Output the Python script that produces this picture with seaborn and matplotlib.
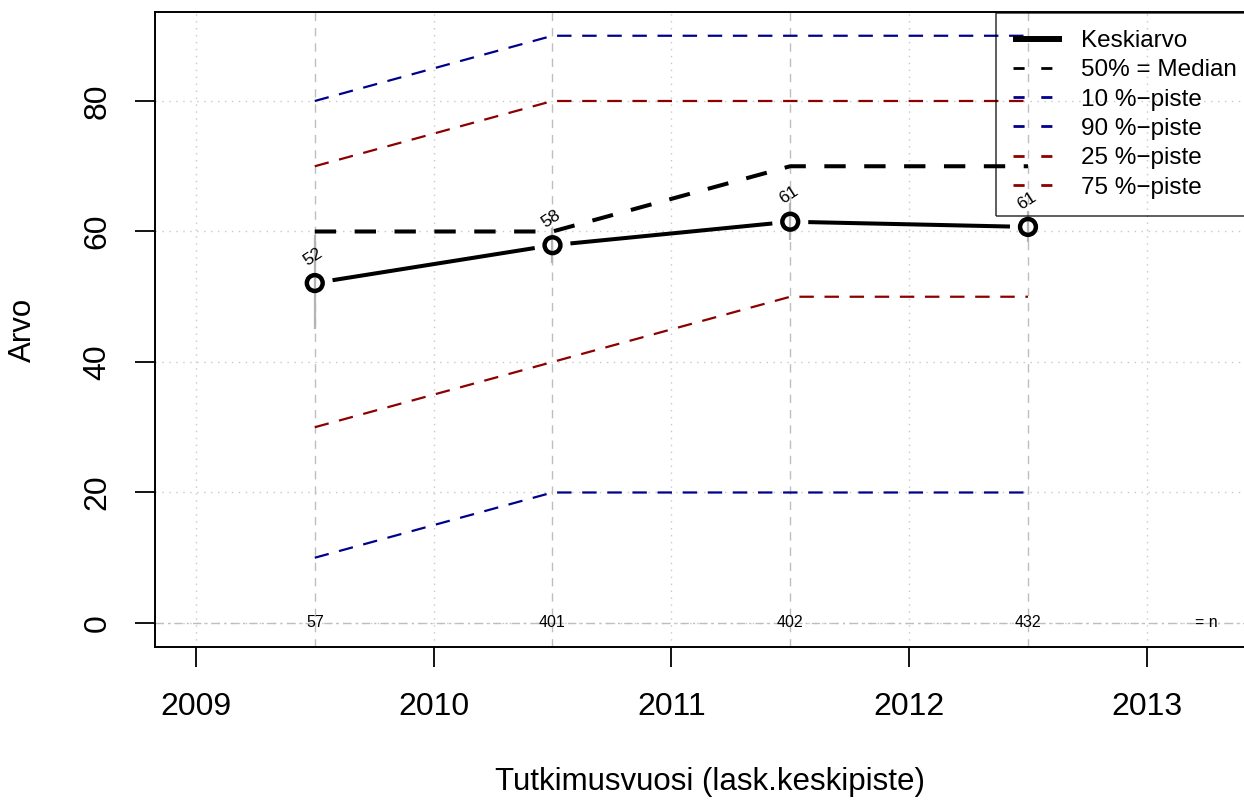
import numpy as np
import pandas as pd
import matplotlib
matplotlib.use("Agg")
import matplotlib.pyplot as plt
from matplotlib.lines import Line2D
import seaborn as sns

# data
vuodet = [2009.5, 2010.5, 2011.5, 2012.5]
keskiarvo = [52.1, 57.9, 61.5, 60.7]
keskiarvo_teksti = ["52", "58", "61", "61"]
ci_ala = [45.0, 55.2, 58.7, 58.4]
ci_yla = [59.5, 60.6, 64.4, 63.2]
mediaani = [60, 60, 70, 70]
p10 = [10, 20, 20, 20]
p90 = [80, 90, 90, 90]
p25 = [30, 40, 50, 50]
p75 = [70, 80, 80, 80]
n_arvot = [57, 401, 402, 432]
xtikit = [2009, 2010, 2011, 2012, 2013]
ytikit = [0, 20, 40, 60, 80]

SININEN = "#00008B"
PUNAINEN = "#8B0000"

sns.set_theme(style="white")
plt.rcParams["font.family"] = ["Liberation Sans", "DejaVu Sans"]
plt.rcParams["axes.unicode_minus"] = True
plt.rcParams["text.color"] = "black"
plt.rcParams["axes.labelcolor"] = "black"

fig = plt.figure(figsize=(12.44, 8.01), dpi=100)
ax = fig.add_axes([155 / 1244, 154 / 801, 1110 / 1244, 635 / 801])
ax.set_xlim(2008.828, 2013.497)
ax.set_ylim(-3.68, 93.64)

# grid: dotted at ticks
for x in xtikit:
    ax.axvline(x, color="#C8C8C8", lw=1.0, ls=(0, (1, 4)), zorder=0)
for y in ytikit:
    ax.axhline(y, color="#C8C8C8", lw=1.0, ls=(0, (1, 4)), zorder=0)
# vertical dashed at the measurement years
for x in vuodet:
    ax.axvline(x, color="#BEBEBE", lw=1.0, ls=(0, (6, 5)), zorder=0.5)
ax.axhline(0, color="#BEBEBE", lw=1.0, ls=(0, (6, 3, 1.5, 3)), zorder=0.5)

# confidence bars
ax.vlines(vuodet, ci_ala, ci_yla, color="#B4B4B4", lw=1.6, zorder=1)

# percentile lines
df = pd.DataFrame({"vuosi": vuodet, "p10": p10, "p90": p90, "p25": p25, "p75": p75, "med": mediaani})
for sarake, vari in [("p10", SININEN), ("p90", SININEN), ("p25", PUNAINEN), ("p75", PUNAINEN)]:
    sns.lineplot(data=df, x="vuosi", y=sarake, ax=ax, color=vari, lw=1.6,
                 linestyle=(0, (6.5, 4.8)), legend=False, zorder=2)
sns.lineplot(data=df, x="vuosi", y="med", ax=ax, color="black", lw=2.9,
             linestyle=(0, (5.3, 4.6)), legend=False, zorder=3)

# mean line with gaps around points (R type "b")
aukko = 18.0
pts = ax.transData.transform(np.column_stack([vuodet, keskiarvo]))
inv = ax.transData.inverted()
for i in range(len(pts) - 1):
    a, b = pts[i], pts[i + 1]
    d = b - a
    pituus = np.hypot(*d)
    u = d / pituus
    seg = inv.transform(np.array([a + u * aukko, b - u * aukko]))
    ax.plot(seg[:, 0], seg[:, 1], color="black", lw=2.9, solid_capstyle="butt", zorder=4)

sns.scatterplot(x=vuodet, y=keskiarvo, ax=ax, s=130, facecolor="none",
                edgecolor="black", linewidth=3.2, zorder=5, legend=False)

for x, y, t in zip(vuodet, keskiarvo, keskiarvo_teksti):
    ax.annotate(t, (x, y), xytext=(-1, 19), textcoords="offset points",
                ha="center", va="center", rotation=33, fontsize=12.5, zorder=6)

for x, n in zip(vuodet, n_arvot):
    ax.text(x, 0, str(n), ha="center", va="center", fontsize=11.5, zorder=6)
ax.text(2013.25, 0, "= n", ha="center", va="center", fontsize=11.5, zorder=6)

# axes styling
ax.set_xticks(xtikit)
ax.set_yticks(ytikit)
ax.set_yticklabels([str(v) for v in ytikit], rotation=90, va="center")
ax.tick_params(axis="both", direction="out", length=14.5, width=1.3,
               labelsize=23, color="black", labelcolor="black",
               bottom=True, left=True, top=False, right=False)
ax.tick_params(axis="x", pad=18)
ax.tick_params(axis="y", pad=16)
for sp in ax.spines.values():
    sp.set_color("black")
    sp.set_linewidth(1.4)
ax.set_xlabel("Tutkimusvuosi (lask.keskipiste)", fontsize=22.5, labelpad=32)
ax.set_ylabel("Arvo", fontsize=22.5, labelpad=32)

kahvat = [
    Line2D([], [], color="black", lw=4.3, solid_capstyle="butt"),
    Line2D([], [], color="black", lw=2.0, ls=(0, (4, 6))),
    Line2D([], [], color=SININEN, lw=2.0, ls=(0, (4, 6))),
    Line2D([], [], color=SININEN, lw=2.0, ls=(0, (4, 6))),
    Line2D([], [], color=PUNAINEN, lw=2.0, ls=(0, (4, 6))),
    Line2D([], [], color=PUNAINEN, lw=2.0, ls=(0, (4, 6))),
]
nimet = ["Keskiarvo", "50% = Median", "10 %\u2212piste", "90 %\u2212piste",
         "25 %\u2212piste", "75 %\u2212piste"]
leg = ax.legend(kahvat, nimet, loc="upper left", bbox_to_anchor=(996 / 1244, 1 - 13 / 801),
                bbox_transform=fig.transFigure, borderaxespad=0, fontsize=17.5,
                handlelength=2.0, handletextpad=0.8, borderpad=0.7, labelspacing=0.3,
                fancybox=False, frameon=True)
leg.get_frame().set_facecolor("none")
leg.get_frame().set_edgecolor("black")
leg.get_frame().set_linewidth(1.1)
leg.set_zorder(7)

fig.savefig("out.png", dpi=100)
